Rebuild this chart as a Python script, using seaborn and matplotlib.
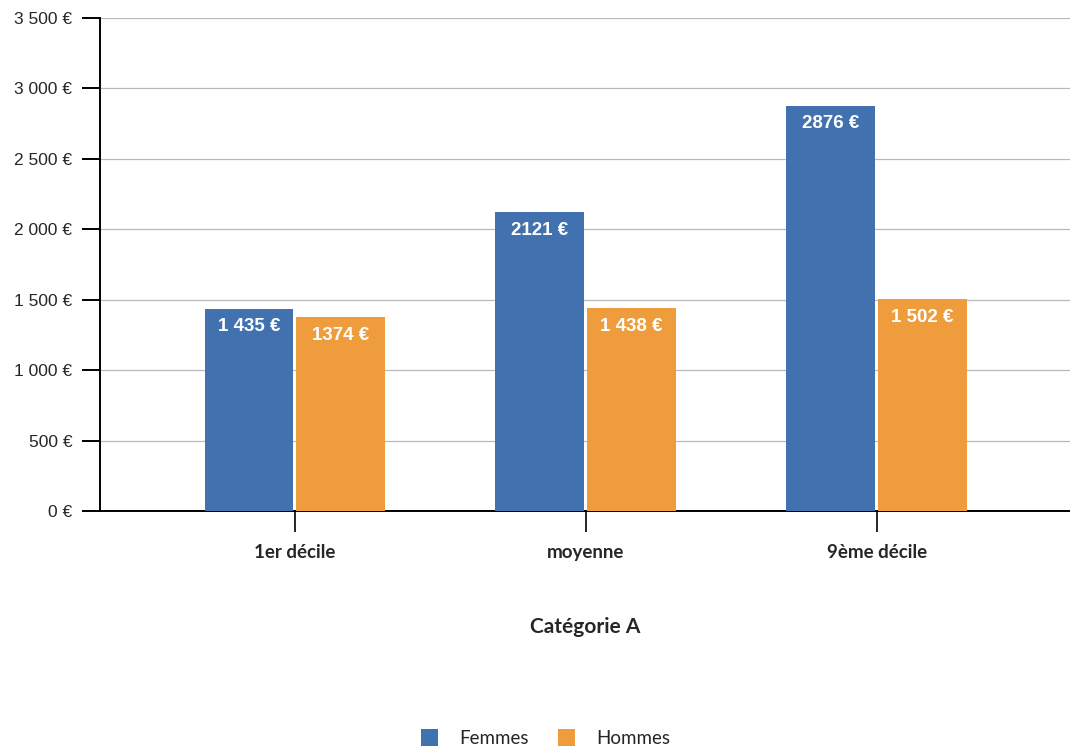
import matplotlib
matplotlib.use("Agg")
import matplotlib.pyplot as plt
import seaborn as sns
import pandas as pd
from matplotlib.patches import Patch

categories = ["1er décile", "moyenne", "9ème décile"]
femmes = [1435, 2121, 2876]
hommes = [1374, 1438, 1502]
series = ["Femmes", "Hommes"]
yticks = [0, 500, 1000, 1500, 2000, 2500, 3000, 3500]
ytick_labels = ["0 €", "500 €", "1 000 €", "1 500 €", "2 000 €", "2 500 €", "3 000 €", "3 500 €"]
bar_labels_f = ["1 435 €", "2121 €", "2876 €"]
bar_labels_h = ["1374 €", "1 438 €", "1 502 €"]
xlabel = "Catégorie A"

df = pd.DataFrame({
    "cat": categories * 2,
    "val": femmes + hommes,
    "serie": [series[0]] * 3 + [series[1]] * 3,
})

sns.set_theme(style="white")
plt.rcParams["font.family"] = ["Liberation Sans", "DejaVu Sans"]

fig = plt.figure(figsize=(10.7, 7.49), dpi=100)
ax = fig.add_axes([100 / 1070, 1 - 511 / 749, 970 / 1070, (511 - 18) / 749])

palette = {"Femmes": "#4171AE", "Hommes": "#EF9D3C"}
sns.barplot(data=df, x="cat", y="val", hue="serie", order=categories,
            hue_order=series, palette=palette, width=0.63, gap=0.03,
            saturation=1, ax=ax, legend=False, zorder=3, linewidth=0)

for cont, labs in zip(ax.containers, [bar_labels_f, bar_labels_h]):
    ax.bar_label(cont, labels=labs, padding=-19, color="white",
                 fontsize=13.5, fontweight="bold", family="Liberation Sans", zorder=4)

ax.set_xlim(-0.67, 2.665)
ax.set_ylim(0, 3500)
ax.set_yticks(yticks)
ax.set_yticklabels(ytick_labels, fontsize=12.5)
ax.yaxis.grid(True, color="#b8b8c0", linewidth=0.9, zorder=0)
ax.set_axisbelow(True)

for s in ["top", "right"]:
    ax.spines[s].set_visible(False)
for s in ["left", "bottom"]:
    ax.spines[s].set_color("black")
    ax.spines[s].set_linewidth(1.4)

ax.tick_params(axis="y", direction="out", length=13, width=1.4, color="black", pad=7, left=True)
ax.tick_params(axis="x", direction="out", length=15, width=1.2, color="black", pad=9, bottom=True)
for lab in ax.get_xticklabels():
    lab.set_fontfamily(["Lato", "DejaVu Sans"])
    lab.set_fontweight("bold")
    lab.set_fontsize(13.5)

ax.set_xlabel(xlabel, fontsize=15, fontweight="bold", family=["Lato", "DejaVu Sans"], labelpad=40)
ax.set_ylabel("")

handles = [Patch(facecolor=palette[s], edgecolor="none") for s in series]
fig.legend(handles, series, loc="lower center", bbox_to_anchor=(0.51, -0.02), ncol=2,
           frameon=False, prop={"family": "Lato", "size": 13.5}, handlelength=0.9,
           handleheight=1.0, columnspacing=1.6, handletextpad=1.1)

fig.savefig("out.png", dpi=100)
